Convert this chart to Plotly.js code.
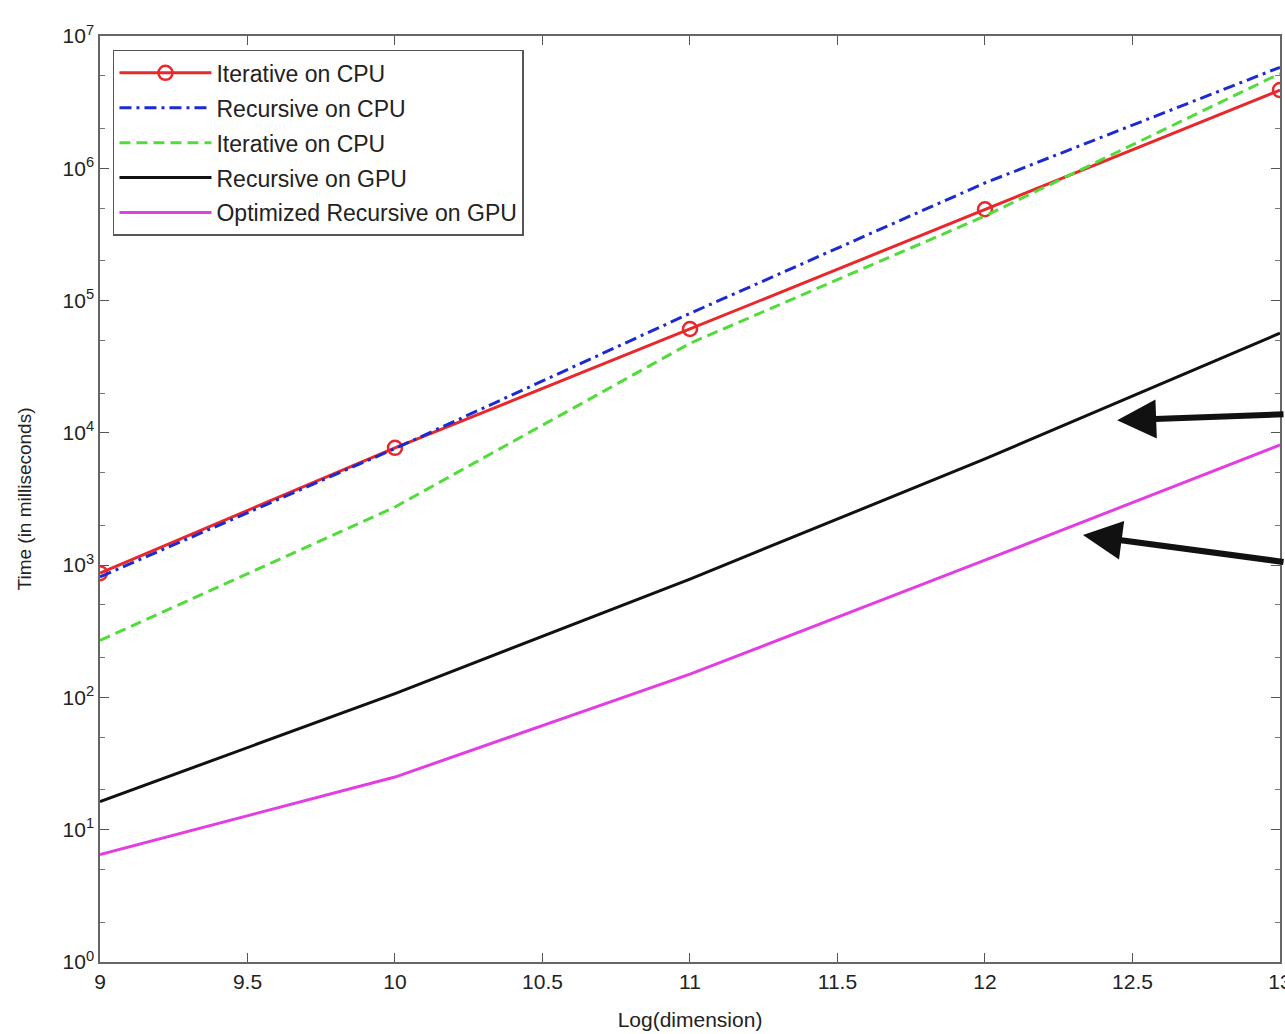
<!DOCTYPE html>
<html>
<head>
<meta charset="utf-8">
<script src="https://cdn.plot.ly/plotly-3.0.1.min.js"></script>
<style>html,body{margin:0;padding:0;background:#fff;}#chart{width:1285px;height:1034px;}</style>
</head>
<body>
<div id="chart"></div>
<script>
const logDim = [9, 10, 11, 12, 13];
const iterCpu = [870, 7700, 61000, 490000, 3900000];
const recCpu = [815, 7600, 80000, 775000, 5800000];
const iterCpu2 = [270, 2750, 47500, 436000, 5200000];
const recGpu = [16.3, 107, 785, 6350, 56700];
const optRecGpu = [6.5, 25, 150, 1090, 8100];
const seriesNames = ["Iterative on CPU", "Recursive on CPU", "Iterative on CPU", "Recursive on GPU", "Optimized Recursive on GPU"];
const xTicks = [9, 9.5, 10, 10.5, 11, 11.5, 12, 12.5, 13];
const yTickVals = [1, 10, 100, 1000, 10000, 100000, 1000000, 10000000];
const yTickText = ["10<sup>0</sup>", "10<sup>1</sup>", "10<sup>2</sup>", "10<sup>3</sup>", "10<sup>4</sup>", "10<sup>5</sup>", "10<sup>6</sup>", "10<sup>7</sup>"];

const traces = [
  {x: logDim, y: iterCpu, name: seriesNames[0], legendgroup: "a", mode: "lines+markers",
   line: {color: "#e8282a", width: 3},
   marker: {symbol: "circle-open", size: 14, color: "#e8282a", line: {width: 2.5, color: "#e8282a"}}},
  {x: logDim, y: recCpu, name: seriesNames[1], legendgroup: "b", mode: "lines",
   line: {color: "#1c2ad0", width: 3, dash: "12px,5px,3px,5px"}},
  {x: logDim, y: iterCpu2, name: seriesNames[2], legendgroup: "c", mode: "lines",
   line: {color: "#52dc3c", width: 3, dash: "11px,6px"}},
  {x: logDim, y: recGpu, name: seriesNames[3], legendgroup: "d", mode: "lines",
   line: {color: "#111111", width: 3}},
  {x: logDim, y: optRecGpu, name: seriesNames[4], legendgroup: "e", mode: "lines",
   line: {color: "#e23ee2", width: 3}}
];

const FAM = "Liberation Sans, Arial, sans-serif";
const tickFont = {family: FAM, size: 21, color: "#222"};

const layout = {
  width: 1285, height: 1034,
  margin: {l: 100, r: 5, t: 36, b: 72},
  paper_bgcolor: "#fff", plot_bgcolor: "#fff",
  showlegend: true,
  font: tickFont,
  xaxis: {
    range: [8.99999, 13.0001], tickvals: xTicks, ticktext: xTicks.map(String),
    ticks: "inside", ticklen: 9, tickcolor: "#555", tickwidth: 1,
    showline: true, linecolor: "#666", linewidth: 1.5, mirror: "ticks",
    showgrid: false, zeroline: false, tickfont: tickFont, ticklabeloverflow: "allow",
    title: {text: "Log(dimension)", font: {family: FAM, size: 21, color: "#222"}, standoff: 20}
  },
  yaxis: {
    type: "log", range: [0, 7], tickvals: yTickVals, ticktext: yTickText,
    ticks: "inside", ticklen: 9, tickcolor: "#555", tickwidth: 1,
    showline: true, linecolor: "#666", linewidth: 1.5, mirror: "ticks",
    showgrid: false, zeroline: false, tickfont: tickFont,
    minor: {ticks: "inside", ticklen: 5, tickcolor: "#777", showgrid: false},
    title: {text: "Time (in milliseconds)", font: {family: FAM, size: 19, color: "#222"}, standoff: 26}
  },
  legend: {
    x: 0.011, y: 0.985, xanchor: "left", yanchor: "top",
    bgcolor: "#fff", bordercolor: "#555", borderwidth: 1.5,
    font: {family: FAM, size: 23, color: "#222"},
    traceorder: "grouped", tracegroupgap: 2, itemwidth: 92
  },
  annotations: [
    {xref: "paper", yref: "paper", x: 0.862, y: 0.585, text: "", showarrow: true,
     axref: "pixel", ayref: "pixel", ax: 175, ay: -6,
     arrowhead: 2, arrowsize: 1.3, arrowwidth: 6, arrowcolor: "#111"},
    {xref: "paper", yref: "paper", x: 0.833, y: 0.461, text: "", showarrow: true,
     axref: "pixel", ayref: "pixel", ax: 210, ay: 27,
     arrowhead: 2, arrowsize: 1.3, arrowwidth: 6, arrowcolor: "#111"}
  ]
};

Plotly.newPlot("chart", traces, layout, {displayModeBar: false});
</script>
</body>
</html>
